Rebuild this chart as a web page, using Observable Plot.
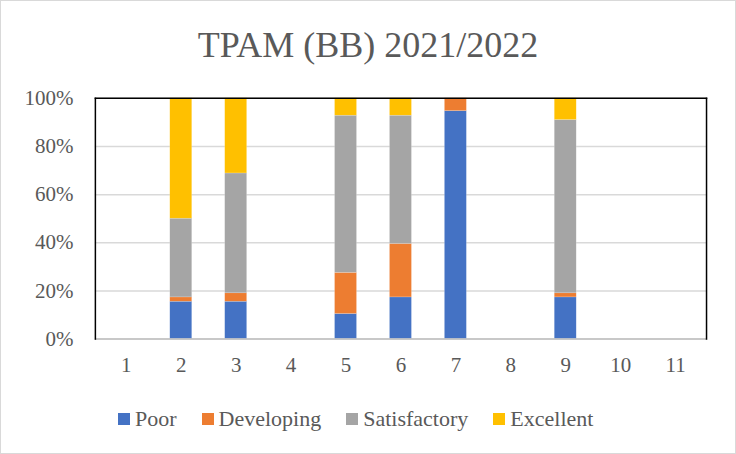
<!DOCTYPE html>
<html>
<head>
<meta charset="utf-8">
<script src="https://cdn.jsdelivr.net/npm/d3@7"></script>
<script src="https://cdn.jsdelivr.net/npm/@observablehq/plot@0.6"></script>
<style>
  html, body { margin: 0; padding: 0; background: #fff; }
  #chart { position: relative; width: 736px; height: 454px; box-sizing: border-box; border: 1px solid #d9d9d9; overflow: hidden; font-family: "Liberation Serif", serif; color: #595959; }
  #title { position: absolute; left: 0; right: 0; top: 24px; text-align: center; font-family: "Liberation Serif", serif; font-size: 36px; line-height: 40px; }
  #plotwrap { position: absolute; left: -1px; top: -1px; }
  #legend { position: absolute; top: 406px; left: 117px; display: flex; gap: 25px; font-family: "Liberation Serif", serif; font-size: 22px; line-height: 24px; white-space: nowrap; }
  .item { display: flex; align-items: center; font-family: "Liberation Serif", serif; }
  .sw { width: 12px; height: 12px; margin-right: 5px; }
</style>
</head>
<body>
<div id="chart">
  <div id="plotwrap"></div>
  <div id="title">TPAM (BB) 2021/2022</div>
  <div id="legend"></div>
</div>
<script>
const categories = ["1","2","3","4","5","6","7","8","9","10","11"];
const seriesNames = ["Poor","Developing","Satisfactory","Excellent"];
const seriesColors = ["#4472C4","#ED7D31","#A5A5A5","#FFC000"];
const poor         = [0, 15.5, 15.5, 0, 10.4, 17.3, 94.7, 0, 17.3, 0, 0];
const developing   = [0, 1.8,  3.5,  0, 17.1, 22.2, 5.3,  0, 1.7,  0, 0];
const satisfactory = [0, 32.7, 49.8, 0, 65.3, 53.3, 0,    0, 72.0, 0, 0];
const excellent    = [0, 50.0, 31.2, 0, 7.2,  7.2,  0,    0, 9.0,  0, 0];
const yTicks = [0, 0.2, 0.4, 0.6, 0.8, 1.0];

const seriesValues = [poor, developing, satisfactory, excellent];
const rows = [];
categories.forEach((c, i) => {
  seriesNames.forEach((s, j) => {
    rows.push({cat: c, series: s, value: seriesValues[j][i] / 100});
  });
});

const FONT = "Liberation Serif";

const chart = Plot.plot({
  width: 736,
  height: 454,
  marginLeft: 95,
  marginRight: 29,
  marginTop: 98,
  marginBottom: 115,
  style: {fontFamily: FONT, fontSize: "21px", color: "#595959", background: "transparent"},
  x: {domain: categories, paddingInner: 0.6, paddingOuter: 0.3, label: null},
  y: {domain: [0, 1], label: null},
  color: {domain: seriesNames, range: seriesColors},
  marks: [
    Plot.gridY(yTicks, {stroke: "#d9d9d9", strokeOpacity: 1, strokeWidth: 1.5}),
    Plot.barY(rows, {x: "cat", y: "value", fill: "series", order: seriesNames, stroke: "#ffffff", strokeOpacity: 0.35, strokeWidth: 0.5}),
    Plot.ruleY([0], {stroke: "#bfbfbf", strokeWidth: 1.5}),
    Plot.frame({stroke: "#000", strokeWidth: 1.5, anchor: "left"}),
    Plot.frame({stroke: "#000", strokeWidth: 1.5, anchor: "top"}),
    Plot.frame({stroke: "#000", strokeWidth: 1.5, anchor: "right"}),
    Plot.axisY(yTicks, {tickSize: 0, tickPadding: 22, tickFormat: d3.format(".0%"), label: null, fill: "#595959", fontFamily: FONT, fontSize: 21}),
    Plot.axisX({tickSize: 0, tickPadding: 18, label: null, fill: "#595959", fontFamily: FONT, fontSize: 21})
  ]
});
document.getElementById("plotwrap").appendChild(chart);

const legend = document.getElementById("legend");
seriesNames.forEach((s, j) => {
  const it = document.createElement("div");
  it.className = "item";
  const sw = document.createElement("div");
  sw.className = "sw";
  sw.style.background = seriesColors[j];
  const t = document.createElement("span");
  t.textContent = s;
  t.style.fontFamily = FONT;
  it.appendChild(sw); it.appendChild(t);
  legend.appendChild(it);
});
</script>
</body>
</html>
